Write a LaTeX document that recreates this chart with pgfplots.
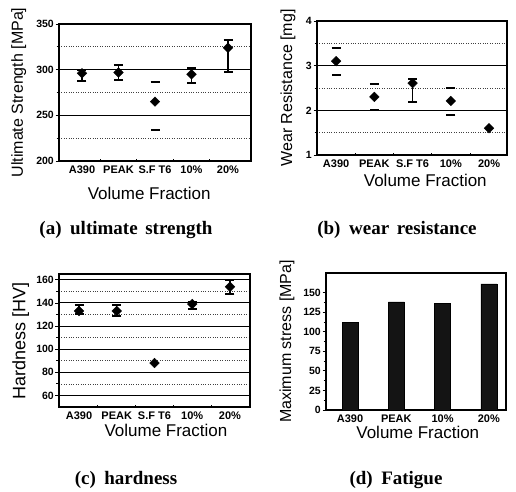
\documentclass[border=0pt]{standalone}
\usepackage{fontspec}
\setmainfont{Liberation Sans}
\newfontfamily\capfont{Liberation Serif}
\usepackage{pgfplots}
\pgfplotsset{compat=1.18}

\pgfplotsset{
  panel/.style={
    scale only axis, anchor=south west,
    axis line style={line width=1.1pt},
    tick style={black, line width=0.8pt},
    tick align=outside, ytick pos=left, xtick pos=bottom,
    major tick length=3.5pt, minor tick length=2.5pt,
    yticklabel style={font=\fontsize{10.5}{12}\selectfont\bfseries, inner sep=1.5pt},
    xticklabel style={font=\fontsize{11}{12}\selectfont\bfseries, inner sep=1.5pt},
    /pgf/number format/assume math mode=true,
    label style={font=\fontsize{16}{18}\selectfont},
    xlabel style={font=\fontsize{17}{19}\selectfont},
    xlabel={Volume Fraction},
  },
  cats/.style={
    xtick={0,...,4},
    xticklabels={A390,PEAK,S.F T6,10\%,20\%},
    major x tick style={draw=none},
    minor xtick={0.5,1.5,2.5,3.5},
    minor x tick style={yshift=2.5pt},
    minor y tick num=1,
    ymajorgrids, yminorgrids,
    major grid style={black, line width=1.1pt},
    minor grid style={black!75, dotted, line width=0.7pt},
  },
  pts/.style={only marks, black, mark=square*, mark size=3.4pt,
    mark options={rotate=45, fill=black}},
  errs/.style={pts,
    error bars/.cd, y dir=both, y explicit, error mark=|,
    error bar style={line width=1.1pt},
    error mark options={mark size=4.5pt, line width=2pt, black}},
  capsonly/.style={pts,
    error bars/.cd, y dir=both, y explicit, error mark=|,
    error bar style={draw opacity=0},
    error mark options={mark size=4.5pt, line width=2pt, black, draw opacity=1}},
}

\begin{document}
\begin{tikzpicture}
\path[use as bounding box] (0,0) rectangle (516pt,-491pt);

% (a) ultimate strength
\begin{axis}[panel, cats, at={(59pt,-161pt)}, width=192pt, height=137pt,
  xmin=-0.63, xmax=4.63, ymin=200, ymax=350, ytick={200,250,300,350},
  ylabel={Ultimate Strength [MPa]},
  ylabel style={at={(axis description cs:-0.21,0.5)}, anchor=center},
  xlabel style={at={(axis description cs:0.47,-0.234)}, anchor=center}]
\addplot[errs] coordinates {
  (0,296) += (0,4) -= (0,8)
  (1,297) += (0,8) -= (0,8)
  (3,295) += (0,7) -= (0,10)
  (4,324) += (0,8) -= (0,26)
};
\addplot[capsonly] coordinates {
  (2,265) += (0,21) -= (0,31)
};
\end{axis}

% (b) wear resistance
\begin{axis}[panel, cats, at={(317pt,-155pt)}, width=190pt, height=134pt,
  xmin=-0.5, xmax=4.47, ymin=1, ymax=4, ytick={1,2,3,4},
  ylabel={Wear Resistance [mg]},
  ylabel style={at={(axis description cs:-0.153,0.5)}, anchor=center},
  xlabel style={at={(axis description cs:0.57,-0.187)}, anchor=center}]
\addplot[errs] coordinates {
  (2,2.61) += (0,0.09) -= (0,0.42)
};
\addplot[capsonly] coordinates {
  (0,3.10) += (0,0.30) -= (0,0.30)
  (1,2.30) += (0,0.30) -= (0,0.30)
  (3,2.21) += (0,0.28) -= (0,0.32)
};
\addplot[pts] coordinates {(4,1.60)};
\end{axis}

% (c) hardness
\begin{axis}[panel, cats, at={(59pt,-407pt)}, width=191pt, height=133pt,
  xmin=-0.53, xmax=4.53, ymin=50, ymax=165, ytick={60,80,...,160},
  ylabel={Hardness [HV]},
  ylabel style={at={(axis description cs:-0.2,0.5)}, anchor=center,
    font=\fontsize{18}{20}\selectfont},
  xlabel style={at={(axis description cs:0.56,-0.173)}, anchor=center}]
\addplot[errs] coordinates {
  (0,133) += (0,5.5) -= (0,3)
  (1,133) += (0,5.5) -= (0,4)
  (3,139) += (0,1.5) -= (0,4.5)
  (4,154) += (0,6) -= (0,6)
};
\addplot[pts] coordinates {(2,88)};
\end{axis}

% (d) fatigue
\begin{axis}[panel, at={(326pt,-410pt)}, width=180pt, height=137pt,
  ybar, bar width=16pt,
  xmin=-0.52, xmax=3.37, ymin=0, ymax=175, ytick={0,25,...,150},
  xtick={0,...,3}, xticklabels={A390,PEAK,10\%,20\%},
  major x tick style={draw=none}, minor y tick num=1,
  ylabel={Maximum stress [MPa]},
  ylabel style={at={(axis description cs:-0.217,0.5)}, anchor=center},
  xlabel style={at={(axis description cs:0.51,-0.16)}, anchor=center}]
\addplot[fill=black!92, draw=black] coordinates {
  (0,112) (1,138) (2,136) (3,161)
};
\end{axis}

\begin{scope}[every node/.style={font=\capfont\fontsize{19}{21}\selectfont\bfseries, anchor=base}]
\node at (126pt,-234pt) {(a)\hspace{0.45em}ultimate\hspace{0.4em}strength};
\node at (397pt,-234pt) {(b)\hspace{0.45em}wear\hspace{0.4em}resistance};
\node at (126pt,-484pt) {(c)\hspace{0.45em}hardness};
\node at (396pt,-484pt) {(d)\hspace{0.45em}Fatigue};
\end{scope}
\end{tikzpicture}
\end{document}
